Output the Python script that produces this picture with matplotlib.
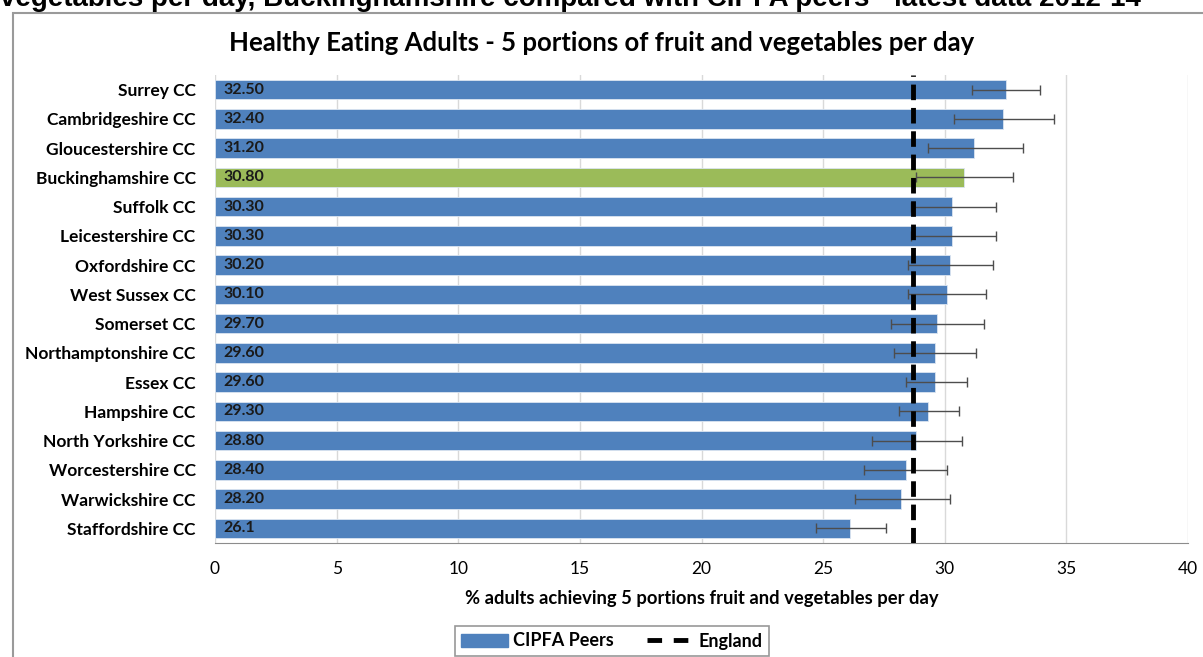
import matplotlib
matplotlib.use("Agg")
import matplotlib.pyplot as plt
from matplotlib.patches import Rectangle
from matplotlib.lines import Line2D
from matplotlib.patches import Patch
import numpy as np

areas = ["Surrey CC", "Cambridgeshire CC", "Gloucestershire CC", "Buckinghamshire CC",
         "Suffolk CC", "Leicestershire CC", "Oxfordshire CC", "West Sussex CC",
         "Somerset CC", "Northamptonshire CC", "Essex CC", "Hampshire CC",
         "North Yorkshire CC", "Worcestershire CC", "Warwickshire CC", "Staffordshire CC"]
values = [32.5, 32.4, 31.2, 30.8, 30.3, 30.3, 30.2, 30.1, 29.7, 29.6, 29.6, 29.3,
          28.8, 28.4, 28.2, 26.1]
value_labels = ["32.50", "32.40", "31.20", "30.80", "30.30", "30.30", "30.20", "30.10",
                "29.70", "29.60", "29.60", "29.30", "28.80", "28.40", "28.20", "26.1"]
ci_low = [31.1, 30.4, 29.3, 28.8, 28.6, 28.6, 28.5, 28.5, 27.8, 27.9, 28.4, 28.1,
          27.0, 26.7, 26.3, 24.7]
ci_high = [33.9, 34.5, 33.2, 32.8, 32.1, 32.1, 32.0, 31.7, 31.6, 31.3, 30.9, 30.6,
           30.7, 30.1, 30.2, 27.6]
highlight = "Buckinghamshire CC"
england = 28.7

W, H = 1203, 657
fig = plt.figure(figsize=(W / 100, H / 100), dpi=100)
plt.rcParams['font.family'] = ['Lato', 'DejaVu Sans']

# outer chart frame
fig.patches.append(Rectangle((13 / W, -0.1), 1.2, 1 - 13 / H + 0.1, transform=fig.transFigure,
                             fill=False, edgecolor="#9a9a9a", linewidth=1.5))
# cropped heading at the very top (cut off in the reference too)
fig.text(0.0, 1 - 6 / H, "vegetables per day, Buckinghamshire compared with CIPFA peers - latest data 2012-14",
         fontsize=20, fontweight="bold", ha="left", va="baseline", family="Liberation Sans")

ax = fig.add_axes([215 / W, 1 - 543 / H, (1188 - 215) / W, (543 - 75) / H])
y = np.arange(len(areas))
colors = ["#9BBB59" if a == highlight else "#4F81BD" for a in areas]
ax.barh(y, values, height=0.67, color=colors, edgecolor="#dbe5f1", linewidth=0.6, zorder=2)
vals = np.array(values)
xerr = np.vstack([vals - np.array(ci_low), np.array(ci_high) - vals])
ax.errorbar(values, y, xerr=xerr, fmt="none", ecolor="#4d4d4d", elinewidth=1.0,
            capsize=3.5, capthick=1.0, zorder=3)
ax.axvline(england, color="black", linestyle=(0, (3.2, 1.6)), linewidth=3.5, zorder=4)

for yi, lab in zip(y, value_labels):
    ax.text(0.35, yi, lab, va="center", ha="left", fontsize=11.5, fontweight="bold",
            color="#1a1a1a", zorder=5)

ax.set_ylim(len(areas) - 0.5, -0.5)
ax.set_xlim(0, 40)
ax.set_xticks(np.arange(0, 41, 5))
ax.set_yticks(y)
ax.set_yticklabels(areas, fontsize=12.5, fontweight="bold")
ax.tick_params(axis="y", length=0, pad=14)
ax.tick_params(axis="x", length=0, labelsize=12.5, pad=13)
ax.grid(axis="x", color="#d9d9d9", linewidth=1, zorder=0)
ax.set_axisbelow(True)
for s in ["top", "right", "left"]:
    ax.spines[s].set_visible(False)
ax.spines["bottom"].set_color("#8c8c8c")
ax.set_xlabel("% adults achieving 5 portions fruit and vegetables per day", fontsize=13.2,
              fontweight="bold", labelpad=9)

fig.text(0.5, 1 - 43 / H, "Healthy Eating Adults - 5 portions of fruit and vegetables per day",
         ha="center", va="center", fontsize=18.5, fontweight="bold")

handles = [Patch(facecolor="#4F81BD", edgecolor="#4F81BD"),
           Line2D([0], [0], color="black", linestyle=(0, (3.0, 2.4)), linewidth=3.5)]
leg = fig.legend(handles, ["CIPFA Peers", "England"], loc="center",
                 bbox_to_anchor=(612 / W, 1 - 641 / H), ncol=2, frameon=True, fancybox=False,
                 edgecolor="#7f7f7f", prop={"weight": "bold", "size": 13},
                 handlelength=2.6, handleheight=0.7, handletextpad=0.3,
                 columnspacing=1.8, borderpad=0.35, borderaxespad=0)
leg.get_frame().set_linewidth(1.2)

fig.savefig("out.png", dpi=100)
